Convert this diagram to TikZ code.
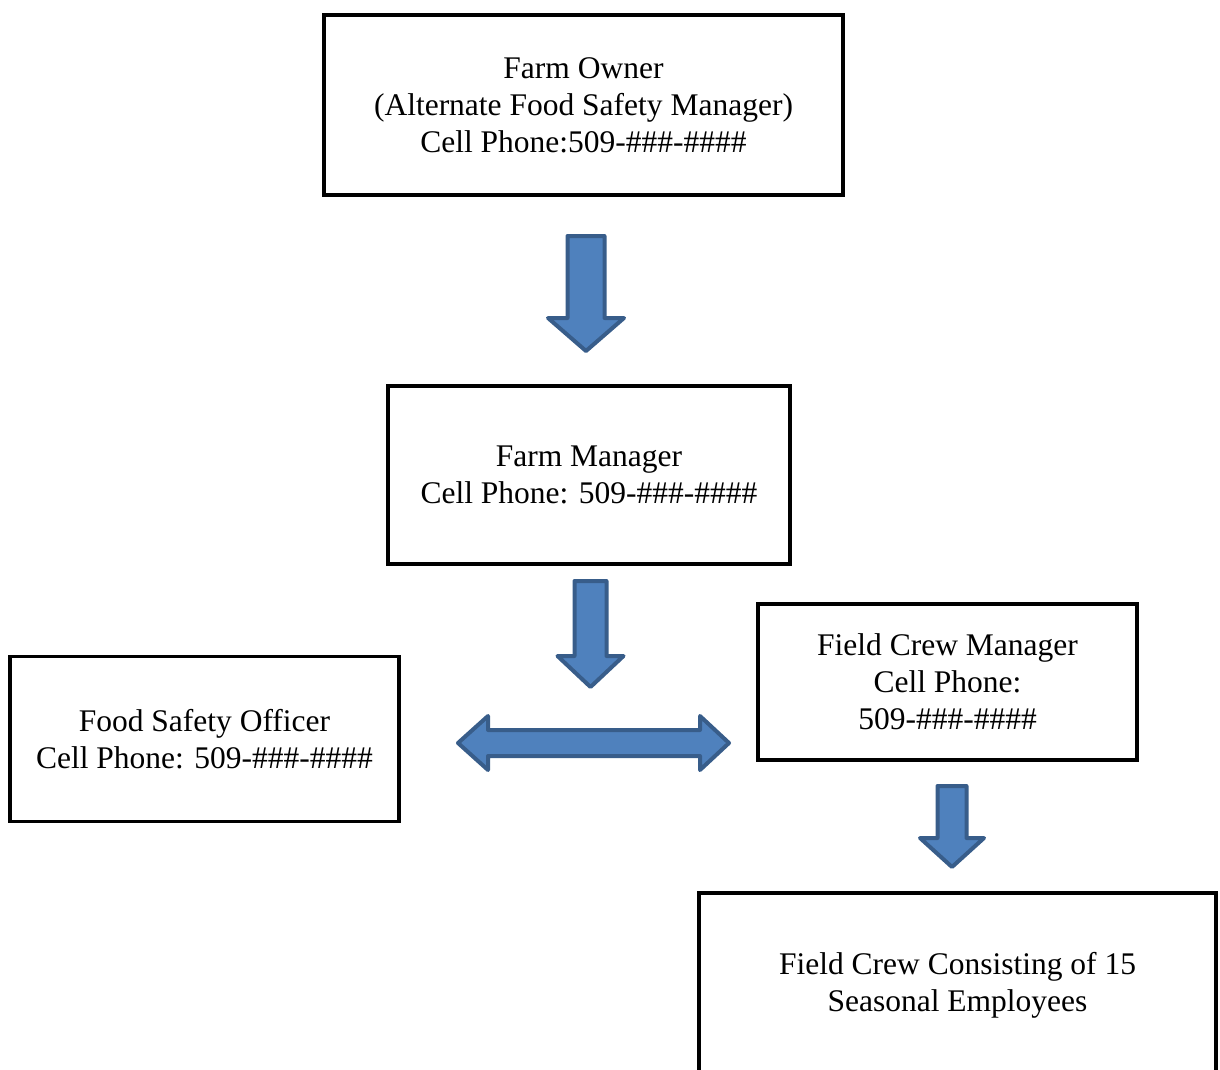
\documentclass[tikz,border=0pt]{standalone}
\usepackage{fontspec}
\setmainfont{Liberation Serif}
\definecolor{arrowfill}{HTML}{4F81BD}
\definecolor{arrowline}{HTML}{385D8A}
\tikzset{
  orgbox/.style={draw=black,line width=3.5pt,fill=white,align=center,inner sep=0pt,
    font=\fontsize{31.5}{37}\selectfont},
  blockarrow/.style={draw=arrowline,fill=arrowfill,line width=4pt,line join=round}
}
% x: centre, #2 tail, #3 neck, #4 tip, #5 half shaft, #6 half head
\newcommand{\downblock}[6]{%
  \draw[blockarrow] ({#1-#5},#2) -- ({#1+#5},#2) -- ({#1+#5},#3) -- ({#1+#6},#3)
    -- (#1,#4) -- ({#1-#6},#3) -- ({#1-#5},#3) -- cycle;}
\begin{document}
\begin{tikzpicture}[x=1pt,y=-1pt]
      \useasboundingbox (0,0) rectangle (1220,1070);
      \node[orgbox,minimum width=519pt,minimum height=180pt] (owner) at (583.5,105)
        {Farm Owner\\(Alternate Food Safety Manager)\\Cell Phone:509-\#\#\#-\#\#\#\#};
      \node[orgbox,minimum width=402pt,minimum height=178pt] (manager) at (589,475)
        {Farm Manager\\Cell Phone: 509-\#\#\#-\#\#\#\#};
      \node[orgbox,minimum width=389pt,minimum height=165pt] (officer) at (204.5,739)
        {Food Safety Officer\\Cell Phone: 509-\#\#\#-\#\#\#\#};
      \node[orgbox,minimum width=379pt,minimum height=156pt] (crewmgr) at (947.5,682)
        {Field Crew Manager\\Cell Phone:\\509-\#\#\#-\#\#\#\#};
      \node[orgbox,minimum width=517pt,minimum height=184pt] (crew) at (957.5,985)
        {Field Crew Consisting of 15\\Seasonal Employees};
      \downblock{586}{236}{318}{351}{18.5}{38}
      \downblock{590.5}{581}{656}{687}{16}{33}
      \downblock{952}{786}{838}{867}{14.5}{32}
      \draw[blockarrow] (458,743) -- (488,716) -- (488,730) -- (700,730) -- (700,716)
        -- (729,743) -- (700,770) -- (700,756) -- (488,756) -- (488,770) -- cycle;
    \end{tikzpicture}
\end{document}
